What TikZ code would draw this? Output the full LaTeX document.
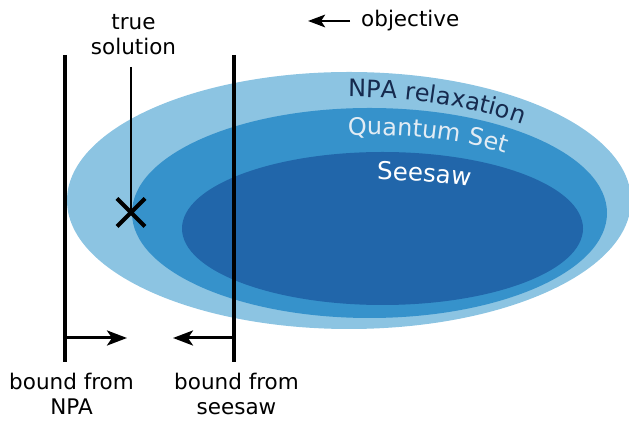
\documentclass[tikz,border=0pt]{standalone}
\usepackage{fontspec}
\setmainfont{DejaVu Sans}
\usetikzlibrary{arrows.meta,decorations.text,shapes.misc}
\definecolor{setA}{RGB}{140,196,226}
\definecolor{setB}{RGB}{54,146,203}
\definecolor{setC}{RGB}{33,102,170}
\definecolor{npatext}{RGB}{22,42,78}
\definecolor{qtext}{RGB}{226,236,244}
\begin{document}
\begin{tikzpicture}[x=1pt,y=1pt,
  lab/.style={font=\fontsize{21.5}{25}\selectfont, inner sep=0pt, align=center},
  bar/.style={line width=3.3pt},
  arr/.style={line width=3pt, -{Stealth[length=20pt,width=15pt,inset=5pt]}},
  objarr/.style={line width=2.8pt, -{Stealth[length=17pt,width=12.5pt,inset=4pt]}},
  curvlab/.style={decorate, decoration={text along path, text align=left}}]
\useasboundingbox (0,0) rectangle (629,422);
% sets
\fill[setA] (349,221.5) ellipse [x radius=282, y radius=128.5];
\fill[setB] (369.5,209) ellipse [x radius=237.5, y radius=105];
\fill[setC] (382.5,193.5) ellipse [x radius=200.5, y radius=76.5];
% curved labels
\path[curvlab, decoration={text={|\fontsize{24}{28}\selectfont\color{npatext}|NPA relaxation}}]
  (348,325) arc[start angle=90, end angle=15, x radius=256, y radius=103];
\path[curvlab, decoration={text={|\fontsize{24}{28}\selectfont\color{qtext}|Quantum Set}}]
  (348.05,286.6) arc[start angle=96, end angle=15, x radius=210, y radius=79];
\path[curvlab, decoration={text={|\fontsize{24.5}{28}\selectfont\color{white}|Seesaw}}]
  (377,242) arc[start angle=91.66, end angle=15, x radius=173, y radius=50];
% bounds
\coordinate (npaT) at (65,367);
\coordinate (npaB) at (65,60);
\coordinate (seeT) at (234,367);
\coordinate (seeB) at (234,60);
\draw[bar] (npaT) -- (npaB);
\draw[bar] (seeT) -- (seeB);
\coordinate (npaA) at (65,84);
\coordinate (npaTip) at (127,84);
\coordinate (seeA) at (234,84);
\coordinate (seeTip) at (173,84);
\draw[arr] (npaA) -- (npaTip);
\draw[arr] (seeA) -- (seeTip);
% true solution
\node[cross out, draw, minimum size=24pt, inner sep=0pt, line width=4pt] (sol) at (131,209.5) {};
\coordinate (solT) at (131,355);
\draw[line width=2.7pt] (solT) -- (sol.center);
% objective
\coordinate (objS) at (350,401);
\coordinate (objT) at (308,401);
\draw[objarr] (objS) -- (objT);
% labels
\node[lab, anchor=base] (trueL) at (133.5,367) {true\\solution};
\node[lab, anchor=base] (bNPA) at (71.5,7) {bound from\\NPA};
\node[lab, anchor=base] (bSee) at (236.5,7) {bound from\\seesaw};
\node[lab, anchor=base west] (obj) at (361,395) {objective};
\end{tikzpicture}
\end{document}
